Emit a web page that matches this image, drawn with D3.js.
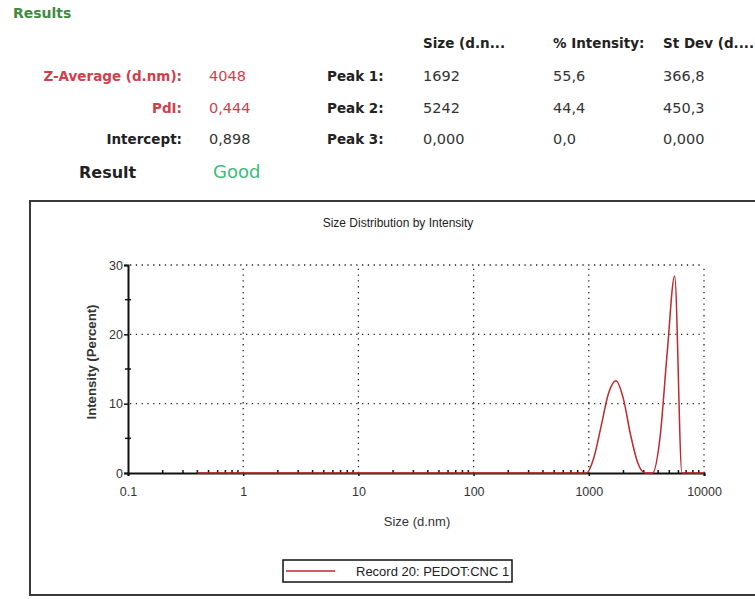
<!DOCTYPE html>
<html>
<head>
<meta charset="utf-8">
<script src="https://cdn.jsdelivr.net/npm/d3@7"></script>
<style>
  html, body { margin: 0; padding: 0; background: #fff; }
  svg { display: block; }
</style>
</head>
<body>
<svg id="chart" width="755" height="599"></svg>
<script>
// ---- Data ----
const sizes = [0.4, 0.4632, 0.5365, 0.6213, 0.7195, 0.8332, 0.9649, 1.117, 1.294, 1.499,
  1.736, 2.010, 2.328, 2.696, 3.122, 3.615, 4.187, 4.849, 5.615, 6.503,
  7.531, 8.721, 10.10, 11.70, 13.54, 15.69, 18.17, 21.04, 24.36, 28.21,
  32.67, 37.84, 43.82, 50.75, 58.77, 68.06, 78.82, 91.28, 105.7, 122.4,
  141.8, 164.2, 190.1, 220.2, 255.0, 295.3, 342.0, 396.1, 458.7, 531.2,
  615.1, 712.4, 825.0, 955.4, 1106, 1281, 1484, 1718, 1990, 2305,
  2669, 3091, 3580, 4145, 4801, 5560, 6439, 7456, 8635, 10000];
const intensity = [0, 0, 0, 0, 0, 0, 0, 0, 0, 0,
  0, 0, 0, 0, 0, 0, 0, 0, 0, 0,
  0, 0, 0, 0, 0, 0, 0, 0, 0, 0,
  0, 0, 0, 0, 0, 0, 0, 0, 0, 0,
  0, 0, 0, 0, 0, 0, 0, 0, 0, 0,
  0, 0, 0, 0, 2.2, 6.8, 11.5, 13.3, 10.8, 5.5,
  1.4, 0, 0, 5.0, 17.5, 28.4, 0, 0, 0, 0];
const xMajorTicks = [0.1, 1, 10, 100, 1000, 10000];
const xTickLabels = ["0.1", "1", "10", "100", "1000", "10000"];
const yMajorTicks = [0, 10, 20, 30];
const yMinorTicks = [5, 15, 25];
const seriesName = "Record 20: PEDOT:CNC 1";

const summaryLabels = ["Z-Average (d.nm):", "PdI:", "Intercept:"];
const summaryValues = ["4048", "0,444", "0,898"];
const peakLabels = ["Peak 1:", "Peak 2:", "Peak 3:"];
const peakHeaders = ["Size (d.n...", "% Intensity:", "St Dev (d...."];
const peakSize = ["1692", "5242", "0,000"];
const peakIntensity = ["55,6", "44,4", "0,0"];
const peakStDev = ["366,8", "450,3", "0,000"];

// ---- Drawing ----
const svg = d3.select("#chart");
const red = "#d0404c";
const lineRed = "#c0282d";
const hdrFont = "'DejaVu Sans', Verdana, sans-serif";
const plotFont = "'Liberation Sans', Arial, sans-serif";

// Header
svg.append("text").attr("x", 13).attr("y", 18).text("Results")
  .attr("font-family", hdrFont).attr("font-weight", "bold").attr("font-size", 14)
  .attr("fill", "#3f8a3f");

const rowY = [81, 113, 144];
summaryLabels.forEach((t, i) => {
  svg.append("text").attr("x", 182).attr("y", rowY[i]).attr("text-anchor", "end").text(t)
    .attr("font-family", hdrFont).attr("font-weight", "bold").attr("font-size", 13.5)
    .attr("fill", i < 2 ? red : "#222");
  svg.append("text").attr("x", 209).attr("y", rowY[i]).text(summaryValues[i])
    .attr("font-family", hdrFont).attr("font-size", 14.5)
    .attr("fill", i < 2 ? red : "#333");
});
svg.append("text").attr("x", 79).attr("y", 178).text("Result")
  .attr("font-family", hdrFont).attr("font-weight", "bold").attr("font-size", 16).attr("fill", "#222");
svg.append("text").attr("x", 213).attr("y", 178).text("Good")
  .attr("font-family", hdrFont).attr("font-size", 18).attr("fill", "#3dbb7a");

const colX = [423, 553, 663];
peakHeaders.forEach((t, j) => {
  svg.append("text").attr("x", colX[j]).attr("y", 48).text(t)
    .attr("font-family", hdrFont).attr("font-weight", "bold").attr("font-size", 13.5).attr("fill", "#222");
});
const cols = [peakSize, peakIntensity, peakStDev];
peakLabels.forEach((t, i) => {
  svg.append("text").attr("x", 327).attr("y", rowY[i]).text(t)
    .attr("font-family", hdrFont).attr("font-weight", "bold").attr("font-size", 13.5).attr("fill", "#222");
  cols.forEach((c, j) => {
    svg.append("text").attr("x", colX[j]).attr("y", rowY[i]).text(c[i])
      .attr("font-family", hdrFont).attr("font-size", 14.5).attr("fill", "#333");
  });
});

// Frame
svg.append("rect").attr("x", 30).attr("y", 201).attr("width", 760).attr("height", 394)
  .attr("fill", "none").attr("stroke", "#3a3a3a").attr("stroke-width", 2);

// Scales
const x = d3.scaleLog().domain([0.1, 10000]).range([128, 704]);
const y = d3.scaleLinear().domain([0, 30]).range([473, 265]);

// Title
svg.append("text").attr("x", 398).attr("y", 227).attr("text-anchor", "middle")
  .text("Size Distribution by Intensity")
  .attr("font-family", plotFont).attr("font-size", 12).attr("fill", "#222");

// Gridlines (dotted)
const grid = svg.append("g").attr("stroke", "#222").attr("stroke-width", 1.3)
  .attr("stroke-dasharray", "1.3,4.5");
yMajorTicks.filter(v => v > 0).forEach(v => {
  grid.append("line").attr("x1", x(0.1) + 2).attr("x2", x(10000)).attr("y1", y(v)).attr("y2", y(v));
});
xMajorTicks.filter(v => v > 0.1).forEach(v => {
  grid.append("line").attr("x1", x(v)).attr("x2", x(v)).attr("y1", y(0)).attr("y2", y(30));
});

// X axis
const xAxis = d3.axisBottom(x).tickValues(xMajorTicks)
  .tickFormat((d, i) => xTickLabels[i]).tickSize(3).tickPadding(11);
const gx = svg.append("g").attr("transform", `translate(0,${y(0)})`).call(xAxis);
gx.select(".domain").attr("stroke", "#111").attr("stroke-width", 2);
gx.selectAll(".tick line").attr("stroke", "#111").attr("stroke-width", 1.5);
gx.selectAll(".tick text").attr("font-family", plotFont).attr("font-size", 12.5).attr("fill", "#333");

// X minor ticks
const minorX = x.ticks().filter(v => !xMajorTicks.includes(v));
svg.append("g").selectAll("line").data(minorX).join("line")
  .attr("x1", d => x(d)).attr("x2", d => x(d)).attr("y1", y(0) - 3).attr("y2", y(0))
  .attr("stroke", "#111").attr("stroke-width", 1.5);

// Y axis
const yAxis = d3.axisLeft(y).tickValues(yMajorTicks).tickSize(4).tickPadding(1);
const gy = svg.append("g").attr("transform", `translate(${x(0.1)},0)`).call(yAxis);
gy.select(".domain").attr("stroke", "#111").attr("stroke-width", 2);
gy.selectAll(".tick line").attr("stroke", "#111").attr("stroke-width", 1.5);
gy.selectAll(".tick text").attr("font-family", plotFont).attr("font-size", 12.5).attr("fill", "#333");
svg.append("g").selectAll("line").data(yMinorTicks).join("line")
  .attr("x1", x(0.1) - 3).attr("x2", x(0.1) + 3).attr("y1", d => y(d)).attr("y2", d => y(d))
  .attr("stroke", "#111").attr("stroke-width", 1.5);

// Axis labels
svg.append("text").attr("x", 417).attr("y", 526).attr("text-anchor", "middle")
  .text("Size (d.nm)").attr("font-family", plotFont).attr("font-size", 13).attr("fill", "#333");
svg.append("text").attr("transform", "translate(96,362) rotate(-90)").attr("text-anchor", "middle")
  .text("Intensity (Percent)").attr("font-family", plotFont).attr("font-size", 12)
  .attr("font-weight", "bold").attr("fill", "#333")
  .attr("textLength", 115).attr("lengthAdjust", "spacingAndGlyphs");

// Data line
const data = sizes.map((s, i) => ({ s, v: intensity[i] }));
svg.append("path").datum(data)
  .attr("d", d3.line().x(d => x(d.s)).y(d => y(d.v)).curve(d3.curveMonotoneX))
  .attr("fill", "none").attr("stroke", lineRed).attr("stroke-width", 1.5)
  .attr("stroke-linejoin", "round");

// Legend
svg.append("rect").attr("x", 283).attr("y", 560).attr("width", 229).attr("height", 22)
  .attr("fill", "#fff").attr("stroke", "#111").attr("stroke-width", 1.5);
svg.append("line").attr("x1", 286).attr("x2", 335).attr("y1", 571).attr("y2", 571)
  .attr("stroke", lineRed).attr("stroke-width", 1.5);
svg.append("text").attr("x", 356).attr("y", 575.5).text(seriesName)
  .attr("font-family", plotFont).attr("font-size", 13).attr("fill", "#222");
</script>
</body>
</html>
